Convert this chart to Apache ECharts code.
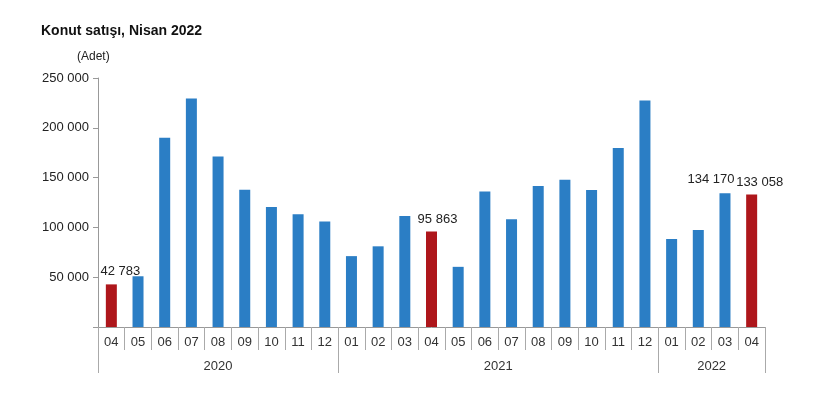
<!DOCTYPE html>
<html><head><meta charset="utf-8">
<script src="https://cdn.jsdelivr.net/npm/echarts@6/dist/echarts.min.js"></script>
<style>html,body{margin:0;padding:0;background:#fff}#c{width:813px;height:402px}</style>
</head><body><div id="c"></div>
<script>
const months = ['04','05','06','07','08','09','10','11','12',
  '01','02','03','04','05','06','07','08','09','10','11','12',
  '01','02','03','04'];
const sales = [42783,50936,190012,229357,171269,137830,120425,113213,105990,
  71157,81003,111536,95863,60404,135936,108128,141455,147769,137613,179679,227325,
  88390,97300,134170,133058];
const years = ['2020','2021','2022'];
const yearCounts = [9,12,4];
const redIdx = [0,12,24];
const labelIdx = [0,12,23,24];
const labelOffsets = {0:[9,0],12:[6,0],23:[-14,-1],24:[8,0]};
const yTicks = [0,50000,100000,150000,200000,250000];

const fmt = v => String(v).replace(/\B(?=(\d{3})+(?!\d))/g,' ');
const bounds = [0]; yearCounts.forEach(c => bounds.push(bounds[bounds.length-1]+c));
const centers = yearCounts.map((c,i)=> bounds[i] + c/2);

const data = sales.map((v,i)=>{
  const d = {value:v, itemStyle:{color: redIdx.includes(i)?'#AE161B':'#2B7EC5'}};
  if(labelIdx.includes(i)){
    d.label = {show:true, position:'top', formatter: fmt(v), offset: labelOffsets[i],
      color:'#222', fontSize:13, fontFamily:'Liberation Sans', distance:6};
  }
  return d;
});

const chart = echarts.init(document.getElementById('c'));
chart.setOption({
  animation:false,
  textStyle:{fontFamily:'Liberation Sans'},
  title:[
    {text:'Konut satışı, Nisan 2022', left:41, top:24, padding:0,
     textStyle:{fontSize:14, fontWeight:'bold', color:'#111', fontFamily:'Liberation Sans'}},
    {text:'(Adet)', left:77, top:51, padding:0,
     textStyle:{fontSize:12, fontWeight:'normal', color:'#222', fontFamily:'Liberation Sans'}}
  ],
  grid:{left:98, right:48, top:78, bottom:75},
  xAxis:[
    {type:'category', data:months, position:'bottom',
     axisLine:{show:true, lineStyle:{color:'#999', width:1}},
     axisTick:{show:true, interval:0, length:23, lineStyle:{color:'#aaa'}},
     axisLabel:{interval:0, color:'#333', fontSize:13, margin:9}},
    {type:'value', min:0, max:bounds[bounds.length-1], position:'bottom',
     axisLine:{show:false},
     splitLine:{show:false},
     axisTick:{show:true, customValues:bounds, length:46, lineStyle:{color:'#aaa'}},
     axisLabel:{show:true, customValues:centers, color:'#333', fontSize:13, margin:33,
       formatter:(v)=>{ const i = centers.findIndex(c=>Math.abs(c-v)<1e-6); return i>=0?years[i]:''; }}}
  ],
  yAxis:{type:'value', min:yTicks[0], max:yTicks[yTicks.length-1], interval:yTicks[1]-yTicks[0],
    axisLine:{show:true, lineStyle:{color:'#999'}},
    axisTick:{show:true, length:5, lineStyle:{color:'#999'}},
    splitLine:{show:false},
    axisLabel:{color:'#222', fontSize:13, margin:9, formatter:v=> v===0?'':fmt(v)}},
  series:[{type:'bar', xAxisIndex:0, data:data, barWidth:11}]
});
</script></body></html>
